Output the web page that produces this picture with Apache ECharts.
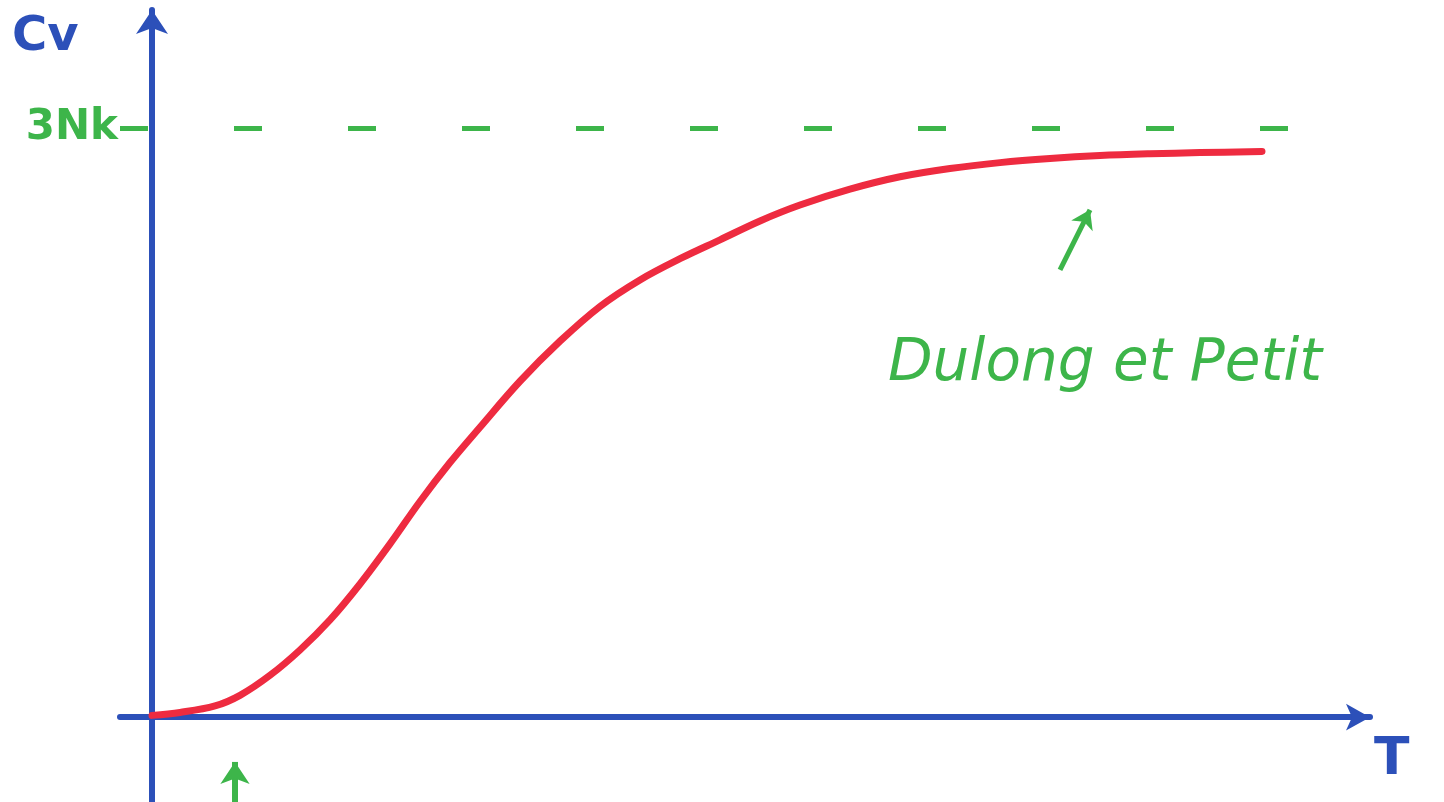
<!DOCTYPE html>
<html><head><meta charset="utf-8">
<script src="https://cdn.jsdelivr.net/npm/echarts@6/dist/echarts.min.js"></script>
<style>html,body{margin:0;padding:0;background:#fff}#c{width:1444px;height:802px}</style>
</head><body><div id="c"></div>
<script>
// Temperature (arbitrary units) and heat capacity Cv (in units of 3Nk)
const T = [0, 0.28, 0.63, 0.88, 1.18, 1.48, 1.78, 2.08, 2.38, 2.68, 2.98, 3.28, 3.68, 4.08, 4.48, 4.88, 5.28, 5.68, 6.08, 6.48, 6.98, 7.48, 7.98, 8.48, 8.98, 9.48, 9.98, 10.48, 11.1];
const Cv = [0.003, 0.008, 0.019, 0.037, 0.071, 0.114, 0.165, 0.226, 0.294, 0.366, 0.432, 0.492, 0.570, 0.638, 0.697, 0.742, 0.778, 0.810, 0.842, 0.869, 0.896, 0.917, 0.931, 0.941, 0.948, 0.953, 0.956, 0.958, 0.96];
const limitValue = 1;          // 3Nk
const limitLabel = '3Nk';
const annotationText = 'Dulong et Petit';
const annotationArrow = [[9.08, 0.759], [9.38, 0.861]];
const annotationPos = [9.53, 0.598];
const lowTArrow = [[0.83, -0.144], [0.83, -0.076]];

const BLUE = '#2c50b9', GREEN = '#3db54a', RED = '#ee2b40';
const chart = echarts.init(document.getElementById('c'));
chart.setOption({
  animation: false,
  grid: {left: 120, right: 74, top: 10, bottom: 0},
  xAxis: {
    type: 'value', min: -0.32, max: 12.18,
    axisLine: {onZero: true, lineStyle: {color: BLUE, width: 6, cap: 'round'}, symbol: ['none', 'arrow'], symbolSize: [20, 24]},
    axisTick: {show: false}, axisLabel: {show: false}, splitLine: {show: false}
  },
  yAxis: {
    type: 'value', min: -0.144, max: 1.2,
    axisLine: {show: true, onZero: true, lineStyle: {color: BLUE, width: 6, cap: 'round'}, symbol: ['none', 'arrow'], symbolSize: [24, 24]},
    axisTick: {show: false}, axisLabel: {show: false}, splitLine: {show: false}
  },
  graphic: [
    {type: 'text', left: 12, top: 14, style: {text: 'Cv', font: 'bold 48px "DejaVu Sans"', fill: BLUE}},
    {type: 'text', left: 1374, top: 734, style: {text: 'T', font: 'bold 52px "DejaVu Sans"', fill: BLUE}}
  ],
  series: [{
    type: 'line', smooth: 0.35, symbol: 'none',
    data: T.map((t, i) => [t, Cv[i]]),
    lineStyle: {color: RED, width: 7, cap: 'round'},
    markLine: {
      silent: true, symbol: ['none', 'none'],
      data: [
        {yAxis: limitValue, lineStyle: {color: GREEN, width: 5, type: [28, 86]},
         label: {show: true, position: 'start', formatter: limitLabel, color: GREEN, fontSize: 42, fontWeight: 'bold', fontFamily: 'DejaVu Sans', distance: 2}},
        [{coord: annotationArrow[0], symbol: 'none'}, {coord: annotationArrow[1], symbol: 'arrow', symbolSize: 18,
          lineStyle: {color: GREEN, width: 5, type: 'solid'}, label: {show: false}}],
        [{coord: lowTArrow[0], symbol: 'none'}, {coord: lowTArrow[1], symbol: 'arrow', symbolSize: 22,
          lineStyle: {color: GREEN, width: 6, type: 'solid'}, label: {show: false}}]
      ]
    },
    markPoint: {
      silent: true, symbol: 'circle', symbolSize: 1, itemStyle: {color: 'rgba(0,0,0,0)'},
      data: [{coord: annotationPos, label: {show: true, position: 'inside', formatter: annotationText,
        color: GREEN, fontSize: 58, fontStyle: 'italic', fontFamily: 'DejaVu Sans'}}]
    }
  }]
});
</script></body></html>
